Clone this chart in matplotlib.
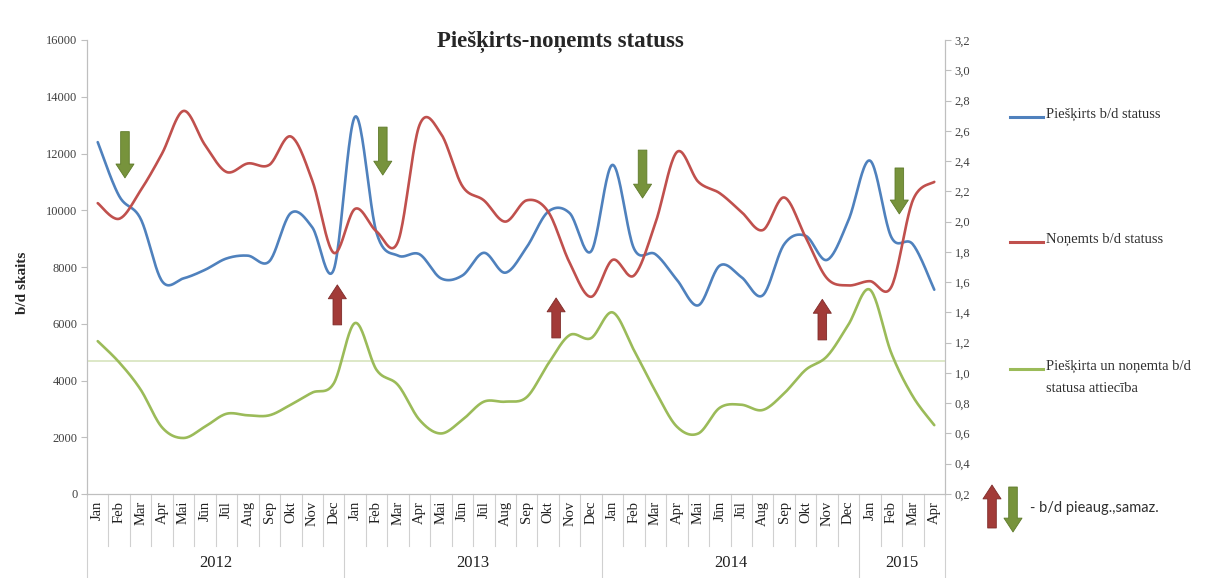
import numpy as np
import matplotlib
matplotlib.use("Agg")
import matplotlib.pyplot as plt
from matplotlib.patches import FancyArrowPatch
from matplotlib.lines import Line2D
import matplotlib.transforms as mtrans

# ---------------- data ----------------
months = ["Jan", "Feb", "Mar", "Apr", "Mai", "Jūn", "Jūl", "Aug", "Sep", "Okt", "Nov", "Dec"]
years = ["2012", "2013", "2014", "2015"]
months_per_year = [12, 12, 12, 4]
month_labels = months * 3 + months[:4]

pieskirts = [12400, 10500, 9700, 7500, 7600, 7900, 8300, 8400, 8200, 9900, 9400, 7900,
             13300, 9200, 8400, 8450, 7600, 7700, 8500, 7800, 8700, 9950, 9900, 8550,
             11600, 8650, 8450, 7550, 6650, 8050, 7650, 7000, 8800, 9100, 8250, 9650,
             11750, 9050, 8800, 7200]
nonemts = [10250, 9700, 10700, 12000, 13500, 12300, 11350, 11650, 11600, 12600, 11050, 8500,
           10050, 9250, 8900, 13000, 12700, 10850, 10350, 9600, 10350, 9950, 8150, 6950,
           8250, 7700, 9550, 12050, 11000, 10600, 9950, 9300, 10450, 9050, 7600, 7350,
           7500, 7300, 10350, 11000]
attieciba = [1.21, 1.07, 0.89, 0.64, 0.57, 0.645, 0.73, 0.72, 0.72, 0.79, 0.87, 0.93,
             1.33, 1.02, 0.92, 0.69, 0.60, 0.69, 0.81, 0.81, 0.84, 1.06, 1.25, 1.23,
             1.40, 1.15, 0.88, 0.645, 0.60, 0.77, 0.79, 0.755, 0.865, 1.02, 1.11, 1.32,
             1.55, 1.13, 0.845, 0.655]
ref_level = 1.08

series_names = ["Piešķirts b/d statuss", "Noņemts b/d statuss",
                "Piešķirta un noņemta b/d\nstatusa attiecība"]

# arrow annotations: (category index, start value, end value) on left axis
down_arrows = [(1.27, 12770, 11140), (13.29, 12930, 11240), (25.4, 12120, 10430), (37.37, 11490, 9870)]
up_arrows = [(11.17, 5960, 7370), (21.37, 5500, 6910), (33.78, 5430, 6860)]

# ---------------- style ----------------
BLUE = "#4F81BD"
RED = "#C0504D"
GREEN = "#9BBB59"
PALE = "#D7E4BD"
ARR_G = "#77933C"
ARR_R = "#A23B38"
GRAY = "#BFBFBF"
SERIF = "Liberation Serif"

def smooth(y, n=24):
    """Excel-like smoothed line (Catmull-Rom style Bezier)."""
    x = np.arange(len(y), dtype=float)
    y = np.asarray(y, dtype=float)
    P = np.column_stack([x, y])
    out = []
    for i in range(len(P) - 1):
        p0 = P[i - 1] if i > 0 else P[i]
        p1 = P[i]
        p2 = P[i + 1]
        p3 = P[i + 2] if i + 2 < len(P) else P[i + 1]
        c1 = p1 + (p2 - p0) / 6.0
        c2 = p2 - (p3 - p1) / 6.0
        t = np.linspace(0, 1, n, endpoint=(i == len(P) - 2))[:, None]
        seg = ((1 - t) ** 3) * p1 + 3 * ((1 - t) ** 2) * t * c1 + 3 * (1 - t) * t ** 2 * c2 + t ** 3 * p2
        out.append(seg)
    out = np.vstack(out)
    return out[:, 0], out[:, 1]

W, H = 1211, 578
fig = plt.figure(figsize=(W / 100, H / 100), dpi=100)
L, R, B, T = 87, 945, 494, 40
ax = fig.add_axes([L / W, 1 - B / H, (R - L) / W, (B - T) / H])
ax2 = ax.twinx()

n = len(month_labels)
ax.set_xlim(-0.5, n - 0.5)
ax.set_ylim(0, 16000)
ax2.set_ylim(0.2, 3.2)

xs, ys = smooth(pieskirts)
ax.plot(xs, ys, color=BLUE, lw=1.9, solid_capstyle="round", zorder=3)
xs, ys = smooth(nonemts)
ax.plot(xs, ys, color=RED, lw=1.9, solid_capstyle="round", zorder=3)
ax2.axhline(ref_level, color=PALE, lw=1.2, zorder=1)
xs, ys = smooth(attieciba)
ax2.plot(xs, ys, color=GREEN, lw=1.9, solid_capstyle="round", zorder=3)

# spines
for a in (ax, ax2):
    for s in a.spines.values():
        s.set_color(GRAY)
        s.set_linewidth(0.8)
    a.spines["top"].set_visible(False)

ax.set_yticks(np.arange(0, 16001, 2000))
ax.set_yticklabels([str(v) for v in range(0, 16001, 2000)])
ax.tick_params(axis="y", colors=GRAY, labelcolor="#404040", length=4, width=0.8, labelsize=9, pad=3)
rt = np.round(np.arange(0.2, 3.21, 0.2), 1)
ax2.set_yticks(rt)
ax2.set_yticklabels([f"{v:.1f}".replace(".", ",") for v in rt])
ax2.tick_params(axis="y", colors=GRAY, labelcolor="#404040", length=4, width=0.8, labelsize=9, pad=3)
for lab in ax.get_yticklabels() + ax2.get_yticklabels():
    lab.set_fontfamily(SERIF)

ax.set_xticks(range(n))
ax.set_xticklabels(month_labels, rotation=90, fontsize=10.5, fontfamily=SERIF, color="#202020")
ax.tick_params(axis="x", length=0, pad=5)

# category separators
trans = mtrans.blended_transform_factory(ax.transData, ax.transAxes)
month_depth = -(546 - B) / (B - T)
year_depth = -(H - B + 2) / (B - T)
year_starts = np.cumsum([0] + months_per_year)
for b in np.arange(n + 1) - 0.5:
    is_year = int(b + 0.5) in year_starts
    ax.plot([b, b], [0, year_depth if is_year else month_depth], transform=trans,
            color="#D0D0D0", lw=0.8, clip_on=False, zorder=0)
for yi, yr in enumerate(years):
    c = (year_starts[yi] + year_starts[yi + 1]) / 2 - 0.5
    ax.text(c, -(563 - B) / (B - T), yr, transform=trans, ha="center", va="center",
            fontsize=12, fontfamily=SERIF, color="#202020")

# arrows
def block_arrow(axis, x, y0, y1, fc, ec, transform=None):
    kw = {}
    if transform is not None:
        kw["transform"] = transform
    p = FancyArrowPatch((x, y0), (x, y1),
                        arrowstyle="simple,head_width=1.3,head_length=1.0,tail_width=0.62",
                        mutation_scale=10, shrinkA=0, shrinkB=0, fc=fc, ec=ec, lw=0.6,
                        zorder=5, **kw)
    axis.add_artist(p) if transform is not None else axis.add_patch(p)

for x, a, b in down_arrows:
    block_arrow(ax, x, a, b, ARR_G, "#5E7A2A")
for x, a, b in up_arrows:
    block_arrow(ax, x, a, b, ARR_R, "#7E2B29")

# title / labels
fig.text(560 / W, 1 - 42 / H, "Piešķirts-noņemts statuss", ha="center", va="center",
         fontsize=16.5, fontweight="bold", fontfamily=SERIF, color="#262626")
fig.text(22 / W, 1 - 283 / H, "b/d skaits", rotation=90, ha="center", va="center",
         fontsize=11, fontweight="bold", fontfamily=SERIF, color="#262626")

# legend (manual placement)
leg_items = [(BLUE, 117), (RED, 242), (GREEN, 369)]
for (col, ly), name in zip(leg_items, series_names):
    fig.add_artist(Line2D([1010 / W, 1043 / W], [1 - ly / H, 1 - ly / H], color=col, lw=2.2,
                          transform=fig.transFigure))
    fig.text(1046 / W, 1 - (ly - 9) / H, name, ha="left", va="top", fontsize=10.5,
             fontfamily=SERIF, color="#303030", linespacing=1.9)

# arrow key
block_arrow(fig, 992 / W, 1 - 528 / H, 1 - 485 / H, ARR_R, "#7E2B29", transform=fig.transFigure)
block_arrow(fig, 1013 / W, 1 - 487 / H, 1 - 532 / H, ARR_G, "#5E7A2A", transform=fig.transFigure)
fig.text(1030 / W, 1 - 508 / H, "- b/d pieaug.,samaz.", ha="left", va="center",
         fontsize=10.5, fontfamily=["Lato", "DejaVu Sans"], color="#303030")

fig.savefig("out.png", dpi=100)
